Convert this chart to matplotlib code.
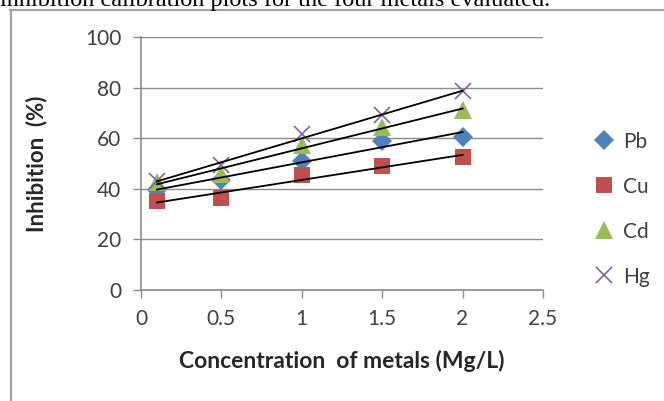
import numpy as np
import matplotlib
matplotlib.use("Agg")
from matplotlib import pyplot as plt
from matplotlib.lines import Line2D

conc = [0.1, 0.5, 1.0, 1.5, 2.0]
pb = [39.5, 43.5, 51.0, 59.0, 60.5]
cu = [35.0, 36.5, 45.5, 49.0, 52.5]
cd = [42.5, 46.0, 57.5, 64.5, 71.0]
hg = [43.0, 49.5, 61.5, 69.0, 78.5]

series = [
    ("Pb", pb, "#4F81BD", "D", 10),
    ("Cu", cu, "#C0504D", "s", 12),
    ("Cd", cd, "#9BBB59", "^", 13),
    ("Hg", hg, "#8064A2", "x", 12),
]

plt.rcParams["font.family"] = ["Lato", "DejaVu Sans"]
fig = plt.figure(figsize=(6.64, 4.01), dpi=100)
ax = fig.add_axes([0.2123, 0.2768, 0.6054, 0.6309])

handles = []
for name, vals, col, mk, ms in series:
    h, = ax.plot(conc, vals, linestyle="none", marker=mk, color=col,
                 markersize=ms, markeredgewidth=1.2 if mk == "x" else 0,
                 label=name, zorder=3)
    handles.append(h)
    # linear trendline
    k, b = np.polyfit(conc, vals, 1)
    xs = np.array([conc[0], conc[-1]])
    ax.plot(xs, k * xs + b, color="black", lw=1.3, zorder=4)

ax.set_xlim(0, 2.5)
ax.set_ylim(0, 100)
ax.set_xticks([0, 0.5, 1, 1.5, 2, 2.5])
ax.set_xticklabels(["0", "0.5", "1", "1.5", "2", "2.5"])
ax.set_yticks([0, 20, 40, 60, 80, 100])
ax.yaxis.grid(True, color="#8c8c8c", lw=1)
ax.set_axisbelow(True)
for s in ["top", "right"]:
    ax.spines[s].set_visible(False)
for s in ["left", "bottom"]:
    ax.spines[s].set_color("#8c8c8c")
    ax.spines[s].set_linewidth(1.2)
ax.tick_params(axis="both", colors="#8c8c8c", labelcolor="#404040",
               labelsize=15, length=6, width=1)
ax.tick_params(axis="x", pad=8)
ax.tick_params(axis="y", pad=8)

ax.set_xlabel("Concentration  of metals (Mg/L)", fontsize=16.5,
              fontweight="bold", color="#262626", labelpad=15)
ax.set_ylabel("Inhibition  (%)", fontsize=16, fontweight="bold",
              color="#262626", labelpad=27)

ax.legend(handles=handles, loc="center left", bbox_to_anchor=(1.08, 0.32),
          frameon=False, fontsize=15, labelspacing=1.2, handlelength=1.0,
          handletextpad=0.4, labelcolor="#404040")

# surrounding frame and cut-off caption
fig.add_artist(Line2D([10 / 664, 1], [1 - 10 / 401] * 2, color="#a0a0a0",
                      lw=1.5, transform=fig.transFigure))
fig.add_artist(Line2D([11 / 664] * 2, [0, 1 - 10 / 401], color="#a0a0a0",
                      lw=1.5, transform=fig.transFigure))
fig.text(0.0, 1 - 6 / 401, "inhibition calibration plots for the four metals evaluated.",
         family="Liberation Serif", fontsize=17.5, color="black",
         ha="left", va="baseline")

fig.savefig("out.png", dpi=100)
